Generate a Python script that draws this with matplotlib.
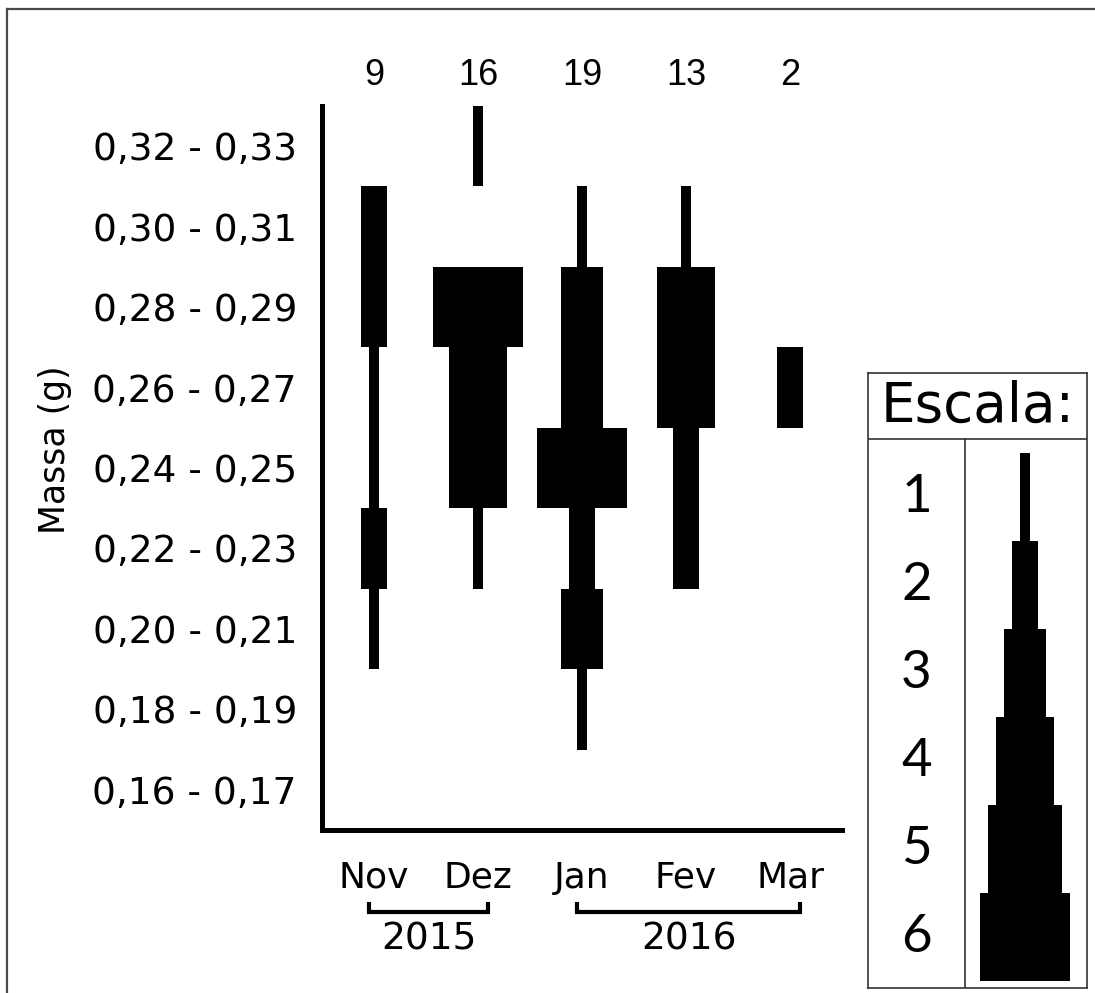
import matplotlib
matplotlib.use("Agg")
import matplotlib.pyplot as plt
from matplotlib.lines import Line2D
from matplotlib.transforms import blended_transform_factory

# ---- data -------------------------------------------------------------
months = ["Nov", "Dez", "Jan", "Fev", "Mar"]
mass_classes = ["0,16 - 0,17", "0,18 - 0,19", "0,20 - 0,21", "0,22 - 0,23",
                "0,24 - 0,25", "0,26 - 0,27", "0,28 - 0,29", "0,30 - 0,31",
                "0,32 - 0,33"]
# number of individuals per mass class (bottom to top)
count_nov = [0, 0, 1, 2, 1, 1, 2, 2, 0]
count_dez = [0, 0, 0, 1, 4, 4, 6, 0, 1]
count_jan = [0, 1, 3, 2, 6, 3, 3, 1, 0]
count_fev = [0, 0, 0, 2, 2, 4, 4, 1, 0]
count_mar = [0, 0, 0, 0, 0, 2, 0, 0, 0]
years = ["2015", "2016"]
year_months = [(0, 1), (2, 4)]          # first / last month index of each year
scale_levels = [1, 2, 3, 4, 5, 6]

counts = [count_nov, count_dez, count_jan, count_fev, count_mar]
totals = [sum(c) for c in counts]

# ---- layout -----------------------------------------------------------
W, H = 1095, 993
def fx(px):
    return px / W
def fy(py):
    return 1 - py / H

PX_PER_MONTH = 104.0
def kite_width_px(n):
    return 16.0 * n - 6.0

fig = plt.figure(figsize=(W / 100, H / 100), dpi=100)
fig.patch.set_facecolor("white")

ax = fig.add_axes([fx(322), fy(830), fx(842) - fx(322), fy(106) - fy(830)])
ax.set_xlim(-0.5, len(months) - 0.5)
ax.set_ylim(-0.5, len(mass_classes) - 0.5)

for j, col in enumerate(counts):
    for i, n in enumerate(col):
        if n > 0:
            ax.bar(j, 1.0, width=kite_width_px(n) / PX_PER_MONTH, bottom=i - 0.5,
                   color="black", linewidth=0)

for s in ("top", "right"):
    ax.spines[s].set_visible(False)
for s in ("left", "bottom"):
    ax.spines[s].set_linewidth(3.6)
    ax.spines[s].set_color("black")

ax.set_yticks(range(len(mass_classes)), labels=mass_classes)
ax.set_xticks(range(len(months)), labels=months)
ax.tick_params(axis="y", length=0, pad=18, labelsize=27)
ax.tick_params(axis="x", length=0, pad=22, labelsize=26)

# totals above each month
top_tr = blended_transform_factory(ax.transData, ax.transAxes)
for j, t in enumerate(totals):
    ax.text(j, 1.0428, str(t), transform=top_tr, ha="center", va="center",
            fontsize=26, family=["Liberation Sans Narrow", "Liberation Sans"])

# year brackets below the month labels
yr_tr = blended_transform_factory(ax.transData, fig.transFigure)
for label, (m0, m1) in zip(years, year_months):
    x0, x1 = m0 - 0.05, m1 + 0.1
    ax.plot([x0, x0, x1, x1], [fy(902), fy(912), fy(912), fy(902)],
            transform=yr_tr, color="black", lw=3.0, clip_on=False,
            solid_joinstyle="miter", solid_capstyle="butt")
    ax.text((x0 + x1) / 2, fy(939), label, transform=yr_tr, ha="center",
            va="center", fontsize=27)

fig.text(fx(55), fy(450), "Massa (g)", rotation=90, ha="center", va="center",
         fontsize=25)

# ---- scale box --------------------------------------------------------
lax = fig.add_axes([fx(868), fy(988), fx(1087) - fx(868), fy(373) - fy(988)])
lax.set_xlim(868, 1087)
lax.set_ylim(988, 373)
lax.set_xticks([])
lax.set_yticks([])
for s in lax.spines.values():
    s.set_linewidth(1.2)
    s.set_color("#333333")
lax.axhline(439, color="#333333", lw=1.2)
lax.plot([965, 965], [439, 988], color="#333333", lw=1.2)

lax.text(977.5, 407, "Escala:", ha="center", va="center", fontsize=39.5)
step = 88.0
for k, n in enumerate(scale_levels):
    top = 453 + step * k
    lax.bar(1024.5, step, width=kite_width_px(n), bottom=top, color="black",
            linewidth=0)
    lax.text(916.5, top + step / 2, str(n), ha="center", va="center",
             fontsize=38, family=["Lato", "DejaVu Sans"])

# ---- outer frame ------------------------------------------------------
frame_kw = dict(color="#4a4a4a", lw=1.6, transform=fig.transFigure)
fig.add_artist(Line2D([fx(7), fx(7)], [fy(9), 0], **frame_kw))
fig.add_artist(Line2D([fx(7), 1], [fy(9), fy(9)], **frame_kw))

fig.savefig("out.png", dpi=100, facecolor="white")
